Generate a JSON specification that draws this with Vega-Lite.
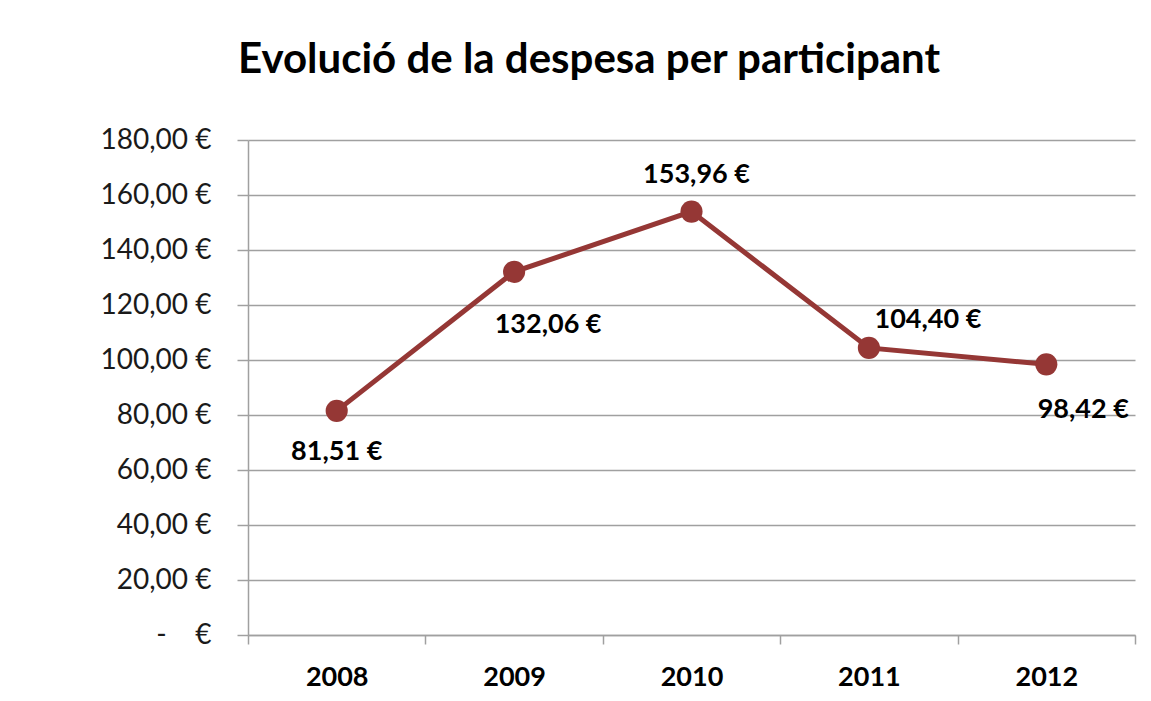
{
  "$schema": "https://vega.github.io/schema/vega-lite/v6.json",
  "width": 887,
  "height": 495,
  "autosize": {"type": "none"},
  "padding": {"left": 248, "top": 140, "right": 16, "bottom": 66},
  "background": "white",
  "title": {
    "text": "Evolució de la despesa per participant",
    "anchor": "start",
    "frame": "group",
    "dx": -10,
    "offset": 11,
    "font": "Lato",
    "fontSize": 42,
    "fontWeight": "bold",
    "color": "#000000",
    "baseline": "alphabetic"
  },
  "config": {
    "locale": {
      "number": {
        "decimal": ",",
        "thousands": ".",
        "grouping": [3],
        "currency": ["", " €"]
      }
    },
    "view": {"stroke": null},
    "font": "Lato"
  },
  "data": {
    "values": [
      {"year": "2008", "value": 81.51},
      {"year": "2009", "value": 132.06},
      {"year": "2010", "value": 153.96},
      {"year": "2011", "value": 104.40},
      {"year": "2012", "value": 98.42}
    ]
  },
  "encoding": {
    "x": {
      "field": "year",
      "type": "ordinal",
      "scale": {"type": "band", "paddingInner": 0, "paddingOuter": 0},
      "axis": {
        "title": null,
        "labelAngle": 0,
        "labelFont": "Lato",
        "labelFontSize": 27,
        "labelFontWeight": "bold",
        "labelColor": "#000000",
        "labelPadding": 20,
        "tickBand": "extent",
        "tickSize": 9,
        "tickColor": "#a0a0a0",
        "tickWidth": 1.5,
        "domainColor": "#a0a0a0",
        "domainWidth": 1.5,
        "grid": false
      }
    },
    "y": {
      "field": "value",
      "type": "quantitative",
      "scale": {"domain": [0, 180], "nice": false, "zero": true},
      "axis": {
        "title": null,
        "values": [0, 20, 40, 60, 80, 100, 120, 140, 160, 180],
        "format": "$.2f",
        "labelExpr": "datum.value === 0 ? '-\u00a0\u00a0\u00a0\u00a0€' : datum.label",
        "labelFont": "Lato",
        "labelFontSize": 28,
        "labelColor": "#1a1a1a",
        "labelPadding": 26,
        "tickSize": 11,
        "tickColor": "#a0a0a0",
        "tickWidth": 1.5,
        "domainColor": "#a0a0a0",
        "domainWidth": 1.5,
        "grid": true,
        "gridColor": "#a0a0a0",
        "gridWidth": 1.5
      }
    }
  },
  "layer": [
    {
      "mark": {"type": "line", "color": "#953735", "strokeWidth": 5}
    },
    {
      "mark": {"type": "point", "filled": true, "color": "#953735", "size": 490, "opacity": 1}
    },
    {
      "transform": [{"filter": "datum.year === '2008'"}],
      "mark": {"type": "text", "font": "Lato", "fontSize": 27, "fontWeight": "bold", "color": "#000000", "dy": 41},
      "encoding": {"text": {"field": "value", "type": "quantitative", "format": "$.2f"}}
    },
    {
      "transform": [{"filter": "datum.year === '2009'"}],
      "mark": {"type": "text", "font": "Lato", "fontSize": 27, "fontWeight": "bold", "color": "#000000", "dx": 34, "dy": 53},
      "encoding": {"text": {"field": "value", "type": "quantitative", "format": "$.2f"}}
    },
    {
      "transform": [{"filter": "datum.year === '2010'"}],
      "mark": {"type": "text", "font": "Lato", "fontSize": 27, "fontWeight": "bold", "color": "#000000", "dx": 5, "dy": -37},
      "encoding": {"text": {"field": "value", "type": "quantitative", "format": "$.2f"}}
    },
    {
      "transform": [{"filter": "datum.year === '2011'"}],
      "mark": {"type": "text", "font": "Lato", "fontSize": 27, "fontWeight": "bold", "color": "#000000", "dx": 59, "dy": -28},
      "encoding": {"text": {"field": "value", "type": "quantitative", "format": "$.2f"}}
    },
    {
      "transform": [{"filter": "datum.year === '2012'"}],
      "mark": {"type": "text", "font": "Lato", "fontSize": 27, "fontWeight": "bold", "color": "#000000", "dx": 37, "dy": 46},
      "encoding": {"text": {"field": "value", "type": "quantitative", "format": "$.2f"}}
    }
  ]
}
